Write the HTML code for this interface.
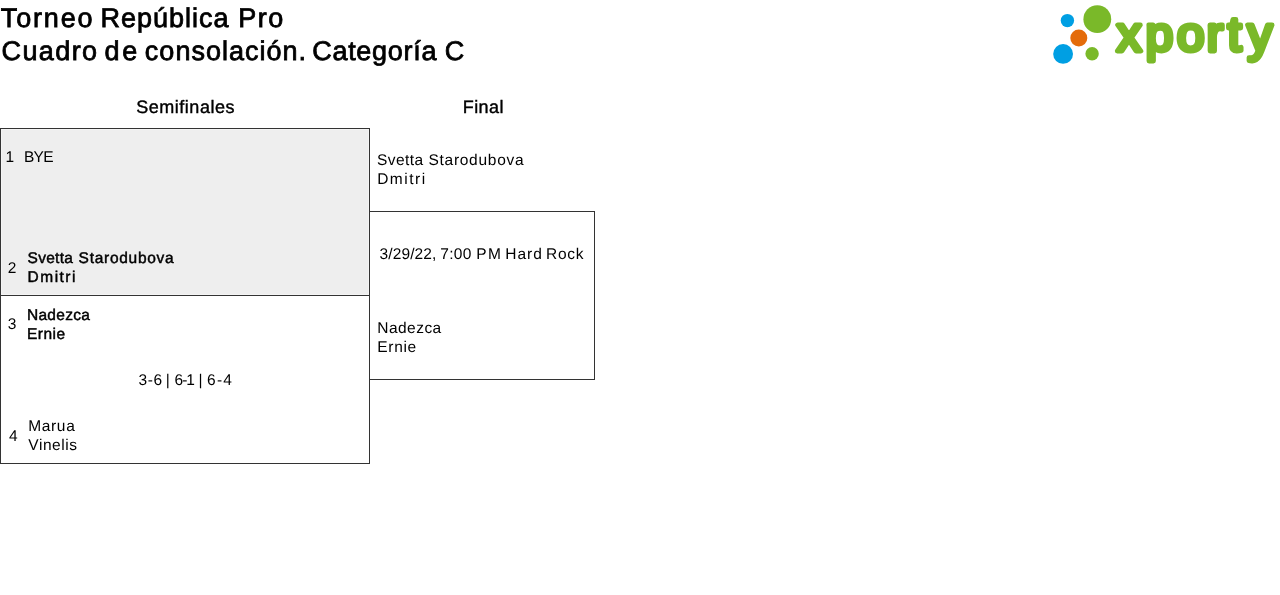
<!DOCTYPE html>
<html lang="es">
<head>
<meta charset="utf-8">
<title>Torneo República Pro - Cuadro de consolación. Categoría C</title>
<style>
html,body{margin:0;padding:0;background:#fff;}
body{font-family:"Liberation Sans",sans-serif;color:#000;width:1280px;height:595px;position:relative;overflow:hidden;}
#sheet{position:absolute;left:0;top:0;width:1280px;height:595px;will-change:transform;text-rendering:geometricPrecision;}
.t{position:absolute;white-space:nowrap;margin:0;padding:0;}
.title{font-size:27px;font-weight:400;line-height:33px;-webkit-text-stroke:0.8px #000;}
.hd{font-size:18px;font-weight:400;line-height:22px;-webkit-text-stroke:0.4px #000;}
.p{font-size:15.5px;line-height:19px;font-weight:400;}
.w{-webkit-text-stroke:0.45px #000;}
.box{position:absolute;border:1px solid #333;box-sizing:border-box;}
.bye-fill{position:absolute;left:0;top:0;right:0;bottom:0;background:#eee;border:1px solid #f4f4f4;}
</style>
</head>
<body>
<div class="box" style="left:0;top:128px;width:370px;height:168px;"><div class="bye-fill"></div></div>
<div class="box" style="left:0;top:295px;width:370px;height:169px;"></div>
<div class="box" style="left:369px;top:211px;width:226px;height:169px;"></div>
<div id="sheet">
<h1 class="t title" style="left:0.80px;top:2px"><span style="letter-spacing:1.83px">Torneo</span> <span style="letter-spacing:1.00px;margin-left:-1.35px">República</span> <span style="letter-spacing:1.43px;margin-left:1.23px">Pro</span></h1>
<h2 class="t title" style="left:1.57px;top:35px"><span style="letter-spacing:1.38px">Cuadro</span> <span style="letter-spacing:2.60px;margin-left:-1.32px">de</span> <span style="letter-spacing:1.00px;margin-left:-2.51px">consolación.</span> <span style="letter-spacing:0.73px;margin-left:-2.33px">Categoría</span> <span style="margin-left:-0.09px">C</span></h2>
<div class="t hd" style="left:136.14px;top:96px;letter-spacing:0.54px">Semifinales</div>
<div class="t hd" style="left:462.84px;top:96px;letter-spacing:0.40px">Final</div>
<div class="t p" style="left:5.42px;top:148px">1</div>
<div class="t p" style="left:23.91px;top:148px;letter-spacing:-0.72px">BYE</div>
<div class="t p" style="left:7.78px;top:259px">2</div>
<div class="t p w" style="left:27.59px;top:249px"><span style="letter-spacing:0.27px">Svetta</span> <span style="letter-spacing:0.72px;margin-left:1.16px">Starodubova</span></div>
<div class="t p w" style="left:27.61px;top:268px;letter-spacing:1.46px">Dmitri</div>
<div class="t p" style="left:7.63px;top:315px">3</div>
<div class="t p w" style="left:26.88px;top:306px;letter-spacing:0.32px">Nadezca</div>
<div class="t p w" style="left:27.00px;top:325px;letter-spacing:0.47px">Ernie</div>
<div class="t p" style="left:138.42px;top:371px"><span style="letter-spacing:0.65px">3-6</span> <span style="margin-left:-1.28px">|</span> <span style="letter-spacing:-1.00px;margin-left:0.42px">6-1</span> <span style="margin-left:0.22px">|</span> <span style="letter-spacing:1.27px;margin-left:0.20px">6-4</span></div>
<div class="t p" style="left:8.97px;top:427px">4</div>
<div class="t p" style="left:28.22px;top:417px;letter-spacing:0.65px">Marua</div>
<div class="t p" style="left:28.33px;top:436px;letter-spacing:0.54px">Vinelis</div>
<div class="t p" style="left:376.95px;top:151px"><span style="letter-spacing:0.44px">Svetta</span> <span style="letter-spacing:0.72px;margin-left:0.64px">Starodubova</span></div>
<div class="t p" style="left:377.14px;top:170px;letter-spacing:1.53px">Dmitri</div>
<div class="t p" style="left:379.59px;top:245px"><span style="letter-spacing:0.11px">3/29/22,</span> <span style="letter-spacing:0.28px;margin-left:-0.56px">7:00</span> <span style="letter-spacing:1.43px;margin-left:0.43px">PM</span> <span style="letter-spacing:0.97px;margin-left:-1.43px">Hard</span> <span style="letter-spacing:0.69px;margin-left:-1.04px">Rock</span></div>
<div class="t p" style="left:377.31px;top:319px;letter-spacing:0.46px">Nadezca</div>
<div class="t p" style="left:377.31px;top:338px;letter-spacing:0.69px">Ernie</div>
</div>
<svg class="t" style="left:1040px;top:0;" width="240" height="70" viewBox="1040 0 240 70">
  <circle cx="1097.3" cy="19.15" r="13.9" fill="#7ab929"/>
  <circle cx="1067.4" cy="20.6" r="6.7" fill="#009fe3"/>
  <circle cx="1078.8" cy="37.9" r="8.5" fill="#e46c0a"/>
  <circle cx="1063.1" cy="53.9" r="9.9" fill="#009fe3"/>
  <circle cx="1092.1" cy="53.7" r="6.7" fill="#7ab929"/>
  <text transform="translate(0 51.1) scale(1.03 1.0)" x="1084.3 1112.4 1142.7 1171.6 1192.1 1211.2" y="0" font-family="Liberation Sans, sans-serif" font-weight="400" font-size="47.8" fill="#7ab929" stroke="#7ab929" stroke-width="4.8" stroke-linejoin="round" stroke-linecap="round">xporty</text>
</svg>
</body>
</html>
